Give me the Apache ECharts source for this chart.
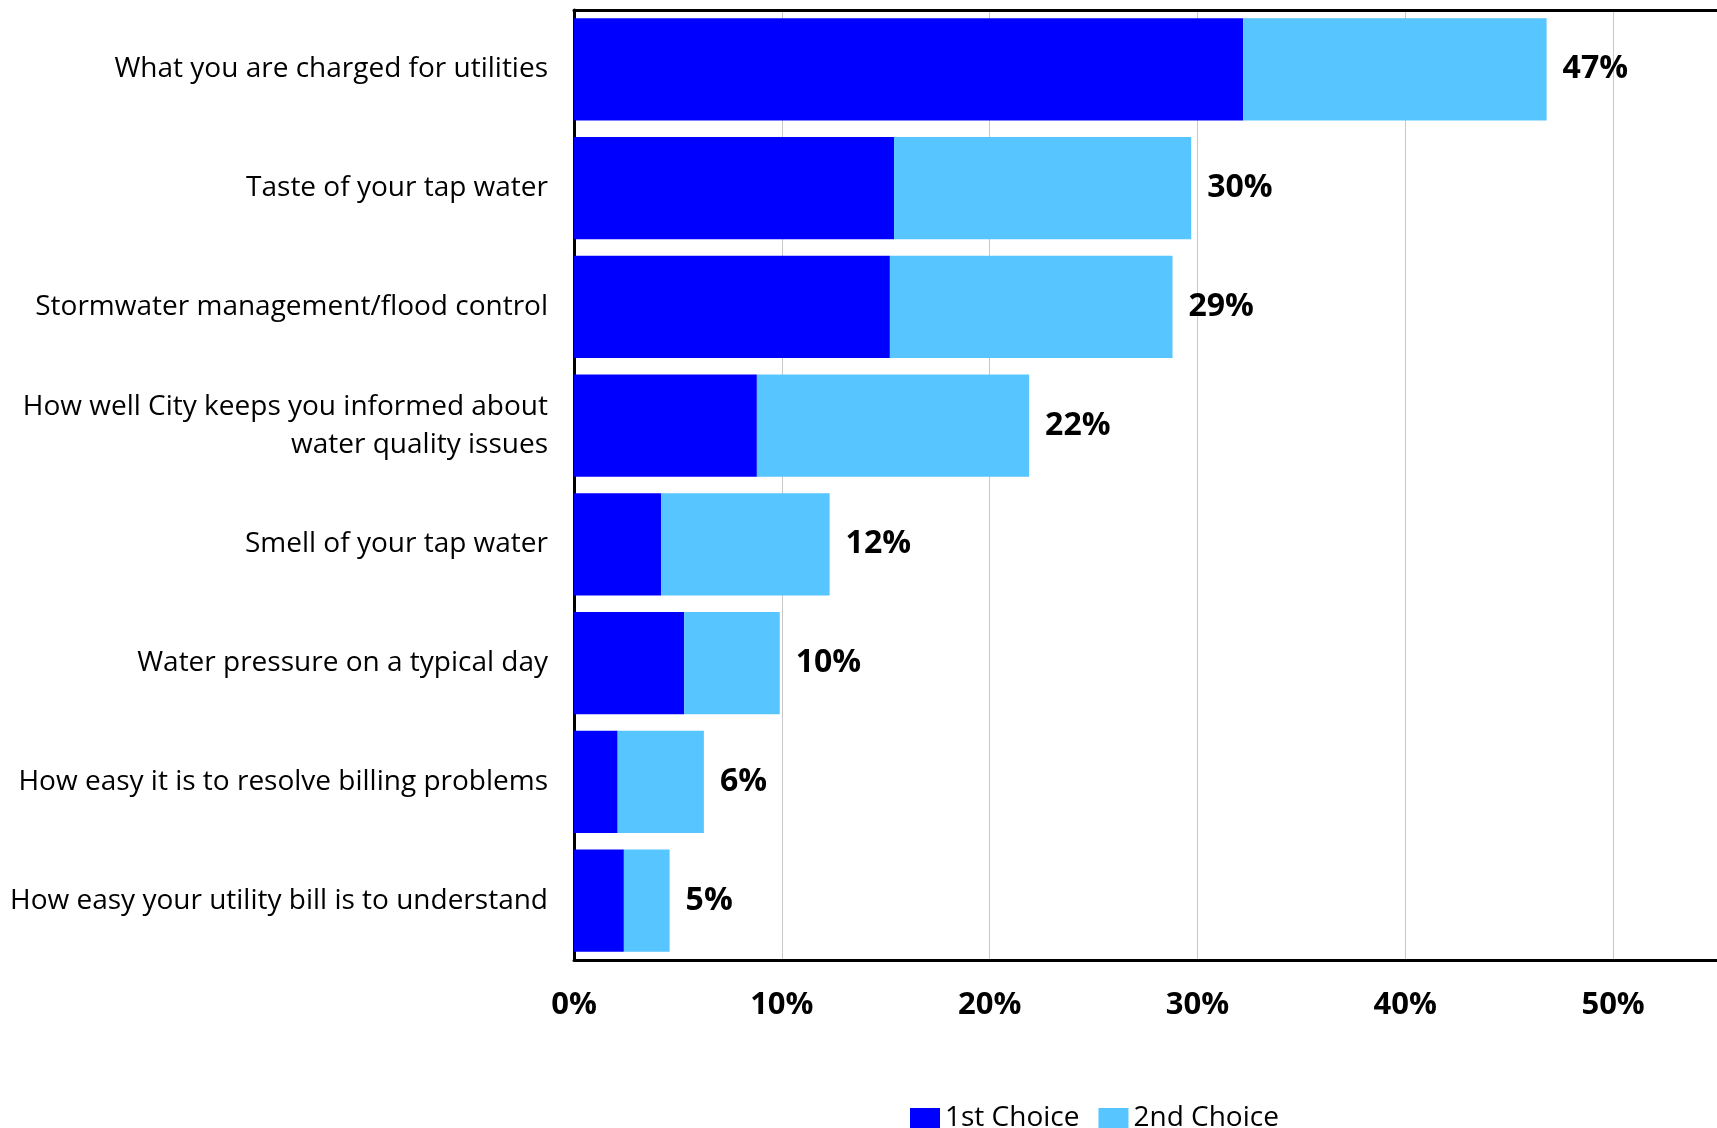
<!DOCTYPE html>
<html>
<head>
<meta charset="utf-8">
<script src="https://cdn.jsdelivr.net/npm/echarts@6/dist/echarts.min.js"></script>
<style>
html,body{margin:0;padding:0;background:#fff;overflow:hidden;}
#chart{width:1717px;height:1128px;}
</style>
</head>
<body>
<div id="chart"></div>
<script>
const categories = [
  "What you are charged for utilities",
  "Taste of your tap water",
  "Stormwater management/flood control",
  "How well City keeps you informed about\nwater quality issues",
  "Smell of your tap water",
  "Water pressure on a typical day",
  "How easy it is to resolve billing problems",
  "How easy your utility bill is to understand"
];
const firstChoice  = [32.2, 15.4, 15.2, 8.8, 4.2, 5.3, 2.1, 2.4];
const secondChoice = [14.6, 14.3, 13.6, 13.1, 8.1, 4.6, 4.15, 2.2];
const totalLabels  = [47, 30, 29, 22, 12, 10, 6, 5];
const xTickStep = 10;
const xMin = 0;
const xMax = 55;

const chart = echarts.init(document.getElementById('chart'));
const FONT = '"Open Sans", "Noto Sans", sans-serif';
chart.setOption({
  animation: false,
  backgroundColor: '#fff',
  textStyle: { fontFamily: FONT },
  grid: { left: 574, top: 10, right: 0, height: 950 },
  legend: {
    left: 905, top: 1099,
    itemWidth: 30, itemHeight: 20, itemGap: 19,
    textStyle: { fontSize: 28, color: '#000', fontFamily: FONT },
    icon: 'rect',
    data: ['1st Choice', '2nd Choice']
  },
  xAxis: [{
    type: 'value', min: xMin, max: xMax, interval: xTickStep,
    axisLine: { show: true, lineStyle: { color: '#000', width: 3 } },
    axisTick: { show: false },
    splitLine: { show: true, lineStyle: { color: '#c8c8c8', width: 1 } },
    axisLabel: { formatter: '{value}%', fontSize: 31, fontWeight: 'bold', color: '#000', margin: 30,
                 fontFamily: FONT, showMaxLabel: false }
  }, {
    type: 'value', position: 'top', min: xMin, max: xMax, interval: xTickStep,
    axisLine: { show: true, lineStyle: { color: '#000', width: 3 } },
    axisTick: { show: false }, axisLabel: { show: false }, splitLine: { show: false }
  }],
  yAxis: {
    type: 'category', inverse: true, data: categories,
    axisLine: { show: true, lineStyle: { color: '#000', width: 3 } },
    axisTick: { show: false },
    axisLabel: { fontSize: 28, color: '#000', margin: 26, lineHeight: 38, align: 'right',
                 fontFamily: FONT, padding: [2, 0, 0, 0] }
  },
  series: [
    {
      name: '1st Choice', type: 'bar', stack: 'total', data: firstChoice,
      barCategoryGap: '14%', itemStyle: { color: '#0000FF' }
    },
    {
      name: '2nd Choice', type: 'bar', stack: 'total', data: secondChoice,
      barCategoryGap: '14%', itemStyle: { color: '#57C5FF' },
      label: {
        show: true, position: 'right', distance: 16,
        fontSize: 32, fontWeight: 'bold', color: '#000', fontFamily: FONT,
        formatter: p => totalLabels[p.dataIndex] + '%'
      }
    }
  ]
});
</script>
</body>
</html>
